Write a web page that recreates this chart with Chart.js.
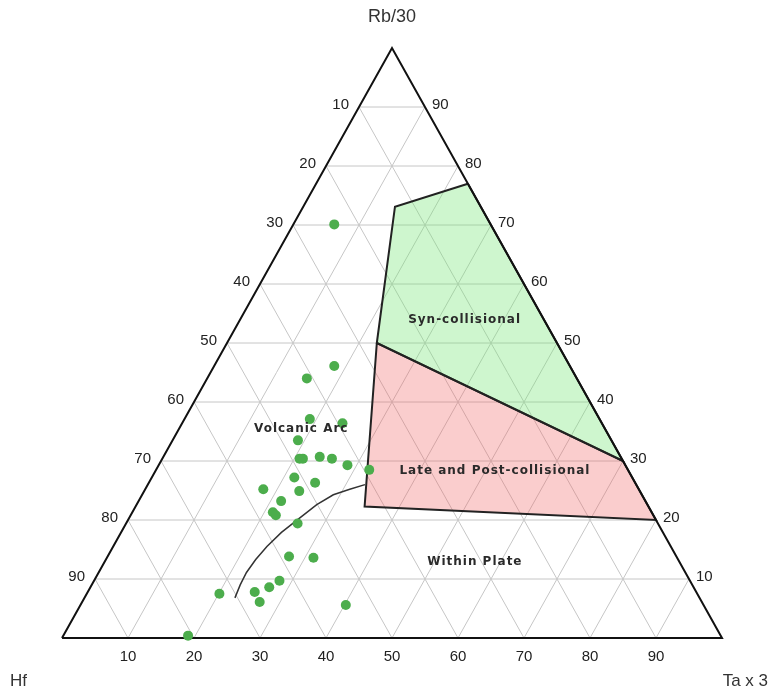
<!DOCTYPE html>
<html>
<head>
<meta charset="utf-8">
<script src="https://cdn.jsdelivr.net/npm/chart.js@4/dist/chart.umd.min.js"></script>
<style>
  body { margin: 0; background: #fff; }
</style>
</head>
<body>
<canvas id="ternary" width="773" height="696"></canvas>
<script>
// tick values along every side of the triangle
const ticks = [10, 20, 30, 40, 50, 60, 70, 80, 90];

// samples (Hf, Rb/30, Ta x 3), in percent
const sampleHf = [23.7, 35.7, 40.9, 43.9, 39.3, 47.5, 48.8, 48.3, 45.6, 43.9, 42.1, 39.2, 51.2, 48.5, 56.9,
  51.6, 55.2, 57.4, 57.2, 54.6, 58.7, 55.1, 62.2, 64.3, 66.9, 67.0, 72.4, 54.2, 80.7];
const sampleRb = [70.1, 46.1, 44.0, 37.1, 36.4, 33.5, 30.4, 30.4, 30.7, 30.4, 29.3, 28.5, 27.2, 26.3, 25.2,
  24.9, 23.2, 21.3, 20.8, 19.4, 13.8, 13.6, 9.7, 8.6, 7.8, 6.1, 7.5, 5.6, 0.4];
const sampleTa = [6.2, 18.2, 15.1, 19.0, 24.3, 19.0, 20.8, 21.3, 23.7, 25.7, 28.6, 32.3, 21.6, 25.2, 17.9,
  23.5, 21.6, 21.3, 22.0, 26.0, 27.5, 31.3, 28.1, 27.1, 25.3, 26.9, 20.1, 40.2, 18.9];

// field boundaries
const synHf = [0, 13.0, 27.3, 0, 0];
const synRb = [77, 73.1, 50, 30, 77];
const synTa = [23, 13.9, 22.7, 70, 23];

const lateHf = [27.3, 0, 0, 43.0, 27.3];
const lateRb = [50, 30, 20, 22.3, 50];
const lateTa = [22.7, 70, 80, 34.7, 22.7];

const wpHf = [41.1, 43.8, 46.8, 50.1, 54.2, 57.8, 61.2, 64.0, 66.5, 68.5, 70.4];
const wpRb = [26.0, 25.2, 24.3, 22.6, 20.1, 17.9, 15.5, 13.3, 11.1, 9.0, 6.8];
const wpTa = [32.9, 31.0, 29.0, 27.3, 25.7, 24.3, 23.3, 22.7, 22.4, 22.5, 22.8];

const fieldNames = ['Syn-collisional', 'Volcanic Arc', 'Late and Post-collisional', 'Within Plate'];
const fieldHf = [12.0, 46.0, 20.2, 31.0];
const fieldRb = [54.0, 35.5, 28.4, 12.9];
const fieldTa = [34.0, 18.5, 51.4, 56.1];

// ternary -> plot coords (x: 0..100 along base, y: Rb height)
function toXY(hf, rb, ta) {
  const s = hf + rb + ta;
  const r = rb / s * 100, t = ta / s * 100;
  return { x: t + r / 2, y: r };
}
function pts(h, r, t) {
  return h.map((v, i) => toXY(v, r[i], t[i]));
}

const frame = pts([100, 0, 0, 100], [0, 100, 0, 0], [0, 0, 100, 0]);

const ternaryPlugin = {
  id: 'ternary',
  beforeDatasetsDraw(chart) {
    const { ctx, scales: { x, y } } = chart;
    const P = (h, r, t) => { const p = toXY(h, r, t); return [x.getPixelForValue(p.x), y.getPixelForValue(p.y)]; };
    ctx.save();
    ctx.strokeStyle = '#c6c6c6';
    ctx.lineWidth = 1;
    ticks.forEach(v => {
      const lines = [
        [P(100 - v, v, 0), P(0, v, 100 - v)],   // const Rb
        [P(100 - v, 0, v), P(0, 100 - v, v)],   // const Ta
        [P(v, 100 - v, 0), P(v, 0, 100 - v)]    // const Hf
      ];
      lines.forEach(([a, b]) => {
        ctx.beginPath();
        ctx.moveTo(a[0], a[1]);
        ctx.lineTo(b[0], b[1]);
        ctx.stroke();
      });
    });
    ctx.restore();
  },
  afterDatasetsDraw(chart) {
    const { ctx, scales: { x, y } } = chart;
    const P = (h, r, t) => { const p = toXY(h, r, t); return [x.getPixelForValue(p.x), y.getPixelForValue(p.y)]; };
    ctx.save();
    ctx.fillStyle = '#222';
    ctx.font = '15px "Liberation Sans", Arial, sans-serif';
    ctx.textBaseline = 'middle';
    ticks.forEach(v => {
      // left side: Hf
      let p = P(v, 100 - v, 0);
      ctx.textAlign = 'right';
      ctx.fillText(String(v), p[0] - 10, p[1] - 2);
      // right side: Rb
      p = P(0, v, 100 - v);
      ctx.textAlign = 'left';
      ctx.fillText(String(v), p[0] + 7, p[1] - 2);
      // base: Ta
      p = P(100 - v, 0, v);
      ctx.textAlign = 'center';
      ctx.fillText(String(v), p[0], p[1] + 19);
    });

    ctx.font = 'bold 12px "DejaVu Sans", Verdana, sans-serif';
    ctx.letterSpacing = '1px';
    ctx.fillStyle = '#2a2a2a';
    ctx.textAlign = 'center';
    fieldNames.forEach((n, i) => {
      const p = P(fieldHf[i], fieldRb[i], fieldTa[i]);
      ctx.fillText(n, p[0], p[1]);
    });
    ctx.letterSpacing = '0px';

    ctx.fillStyle = '#333';
    ctx.font = '18px "Liberation Sans", Arial, sans-serif';
    const top = P(0, 100, 0);
    ctx.fillText('Rb/30', top[0], 17);
    ctx.font = '17px "Liberation Sans", Arial, sans-serif';
    ctx.textAlign = 'left';
    ctx.fillText('Hf', 10, 681);
    ctx.textAlign = 'right';
    ctx.fillText('Ta x 3', 768, 681);
    ctx.restore();
  }
};

new Chart(document.getElementById('ternary'), {
  type: 'scatter',
  data: {
    datasets: [
      {
        label: 'Samples',
        data: pts(sampleHf, sampleRb, sampleTa),
        backgroundColor: '#4cad4c',
        borderWidth: 0,
        pointRadius: 5,
        clip: false,
        order: 0
      },
      {
        label: 'Frame',
        data: frame,
        showLine: true,
        borderColor: '#111',
        borderWidth: 2,
        pointRadius: 0,
        clip: false,
        order: 1
      },
      {
        label: 'Within Plate boundary',
        data: pts(wpHf, wpRb, wpTa),
        showLine: true,
        borderColor: '#333',
        borderWidth: 1.5,
        pointRadius: 0,
        order: 2
      },
      {
        label: 'Syn-collisional',
        data: pts(synHf, synRb, synTa),
        showLine: true,
        fill: 'shape',
        backgroundColor: 'rgba(120,230,120,0.36)',
        borderColor: '#222',
        borderWidth: 2,
        pointRadius: 0,
        order: 3
      },
      {
        label: 'Late and Post-collisional',
        data: pts(lateHf, lateRb, lateTa),
        showLine: true,
        fill: 'shape',
        backgroundColor: 'rgba(240,100,100,0.32)',
        borderColor: '#222',
        borderWidth: 2,
        pointRadius: 0,
        order: 3
      }
    ]
  },
  options: {
    responsive: false,
    animation: false,
    layout: { padding: { left: 62, right: 51, top: 48, bottom: 58 } },
    scales: {
      x: { type: 'linear', min: 0, max: 100, display: false },
      y: { type: 'linear', min: 0, max: 100, display: false }
    },
    plugins: {
      legend: { display: false },
      tooltip: { enabled: false }
    }
  },
  plugins: [ternaryPlugin]
});
</script>
</body>
</html>
